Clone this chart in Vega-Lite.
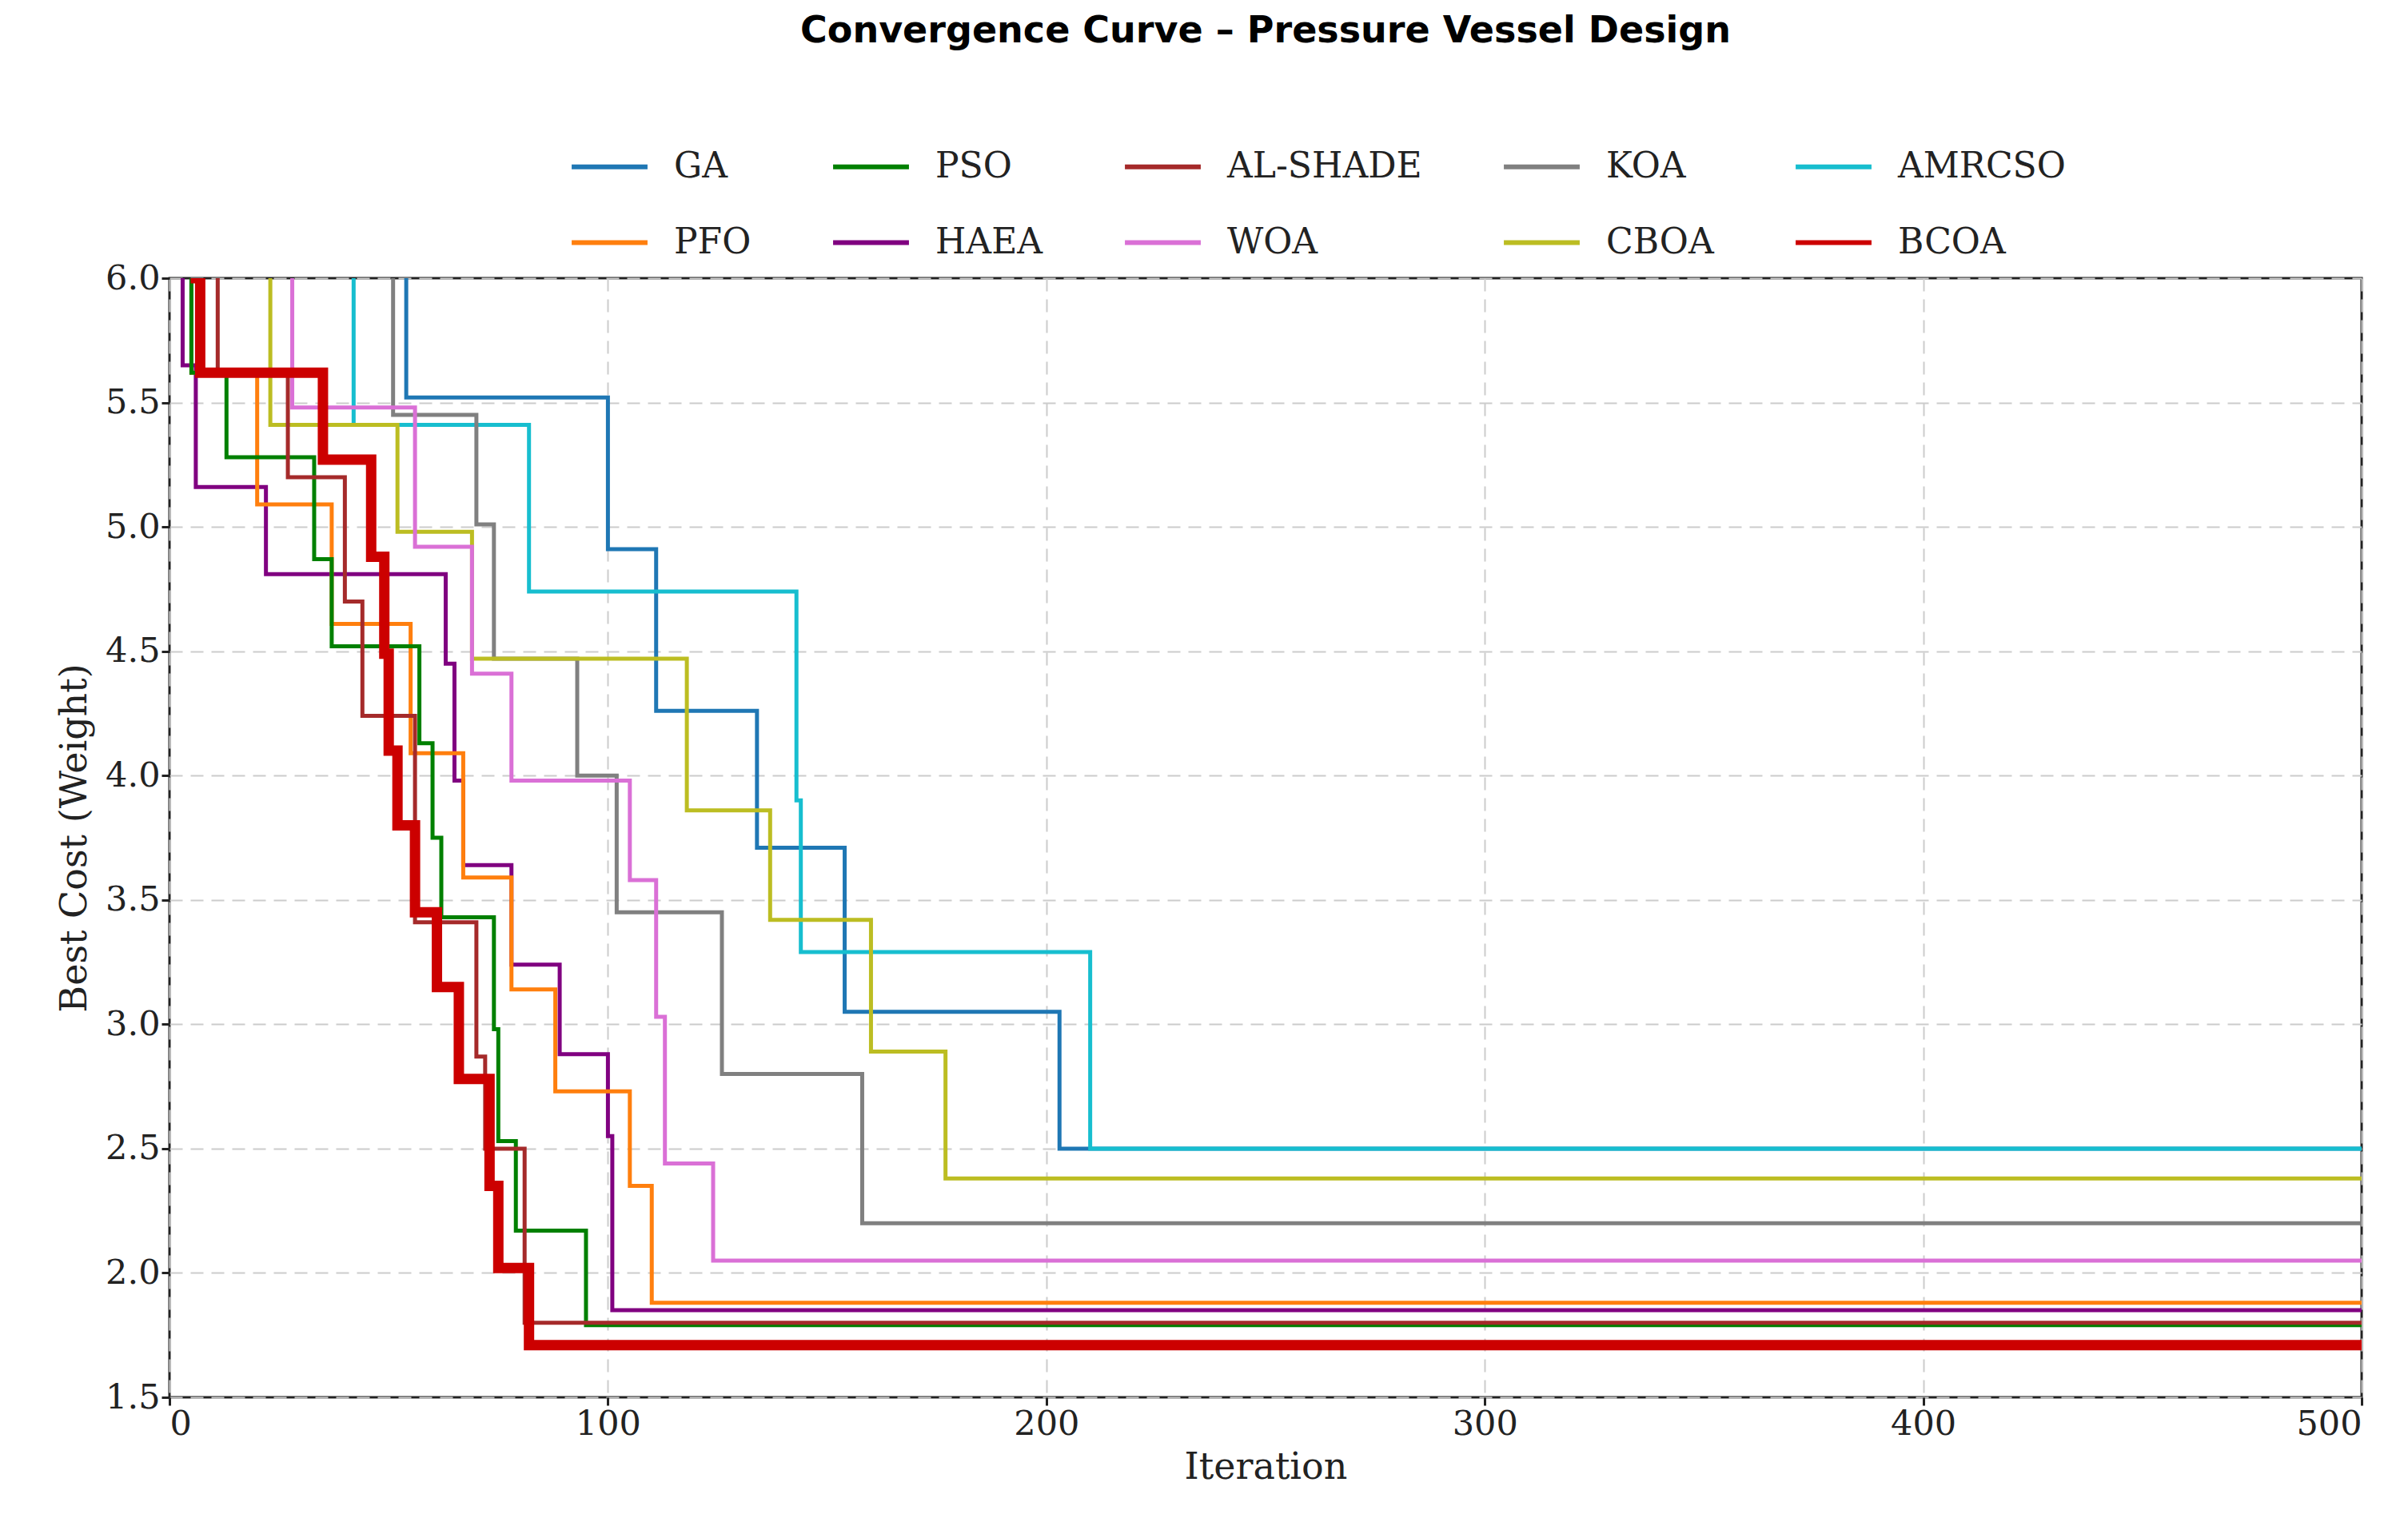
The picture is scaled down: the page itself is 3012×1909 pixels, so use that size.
{
  "$schema": "https://vega.github.io/schema/vega-lite/v6.json",
  "width": 2742,
  "height": 1400,
  "autosize": "none",
  "padding": {"left": 212, "top": 348, "right": 58, "bottom": 161},
  "title": {
    "text": "Convergence Curve – Pressure Vessel Design",
    "font": "DejaVu Sans",
    "fontSize": 46,
    "fontWeight": "bold",
    "color": "black",
    "anchor": "middle",
    "offset": 95
  },
  "config": {
    "view": {"stroke": "#222", "strokeWidth": 3},
    "axis": {
      "labelFont": "DejaVu Serif",
      "titleFont": "DejaVu Serif",
      "labelFontSize": 43,
      "titleFontSize": 46,
      "titleFontWeight": "normal",
      "labelColor": "#222",
      "titleColor": "#222",
      "gridDash": [16, 10],
      "gridColor": "#cccccc",
      "gridWidth": 2,
      "domain": false,
      "tickColor": "#222",
      "tickWidth": 3,
      "tickSize": 10
    },
    "legend": {"labelFont": "DejaVu Serif", "labelFontSize": 44, "labelColor": "#222"}
  },
  "data": {"values": [
    {"alg": "GA", "it": 0, "v": 6.5}, {"alg": "GA", "it": 54, "v": 5.52}, {"alg": "GA", "it": 100, "v": 4.91}, {"alg": "GA", "it": 111, "v": 4.26}, {"alg": "GA", "it": 134, "v": 3.71}, {"alg": "GA", "it": 154, "v": 3.05}, {"alg": "GA", "it": 203, "v": 2.5}, {"alg": "GA", "it": 500, "v": 2.5},
    {"alg": "AMRCSO", "it": 0, "v": 6.5}, {"alg": "AMRCSO", "it": 42, "v": 5.41}, {"alg": "AMRCSO", "it": 82, "v": 4.74}, {"alg": "AMRCSO", "it": 143, "v": 3.9}, {"alg": "AMRCSO", "it": 144, "v": 3.29}, {"alg": "AMRCSO", "it": 210, "v": 2.5}, {"alg": "AMRCSO", "it": 500, "v": 2.5},
    {"alg": "KOA", "it": 0, "v": 6.5}, {"alg": "KOA", "it": 51, "v": 5.45}, {"alg": "KOA", "it": 70, "v": 5.01}, {"alg": "KOA", "it": 74, "v": 4.47}, {"alg": "KOA", "it": 93, "v": 4.0}, {"alg": "KOA", "it": 102, "v": 3.45}, {"alg": "KOA", "it": 126, "v": 2.8}, {"alg": "KOA", "it": 158, "v": 2.2}, {"alg": "KOA", "it": 500, "v": 2.2},
    {"alg": "CBOA", "it": 0, "v": 6.5}, {"alg": "CBOA", "it": 23, "v": 5.41}, {"alg": "CBOA", "it": 52, "v": 4.98}, {"alg": "CBOA", "it": 69, "v": 4.47}, {"alg": "CBOA", "it": 118, "v": 3.86}, {"alg": "CBOA", "it": 137, "v": 3.42}, {"alg": "CBOA", "it": 160, "v": 2.89}, {"alg": "CBOA", "it": 177, "v": 2.38}, {"alg": "CBOA", "it": 500, "v": 2.38},
    {"alg": "WOA", "it": 0, "v": 6.5}, {"alg": "WOA", "it": 28, "v": 5.48}, {"alg": "WOA", "it": 56, "v": 4.92}, {"alg": "WOA", "it": 69, "v": 4.41}, {"alg": "WOA", "it": 78, "v": 3.98}, {"alg": "WOA", "it": 105, "v": 3.58}, {"alg": "WOA", "it": 111, "v": 3.03}, {"alg": "WOA", "it": 113, "v": 2.44}, {"alg": "WOA", "it": 124, "v": 2.05}, {"alg": "WOA", "it": 500, "v": 2.05},
    {"alg": "HAEA", "it": 0, "v": 6.5}, {"alg": "HAEA", "it": 3, "v": 5.65}, {"alg": "HAEA", "it": 6, "v": 5.16}, {"alg": "HAEA", "it": 22, "v": 4.81}, {"alg": "HAEA", "it": 63, "v": 4.45}, {"alg": "HAEA", "it": 65, "v": 3.98}, {"alg": "HAEA", "it": 67, "v": 3.64}, {"alg": "HAEA", "it": 78, "v": 3.24}, {"alg": "HAEA", "it": 89, "v": 2.88}, {"alg": "HAEA", "it": 100, "v": 2.55}, {"alg": "HAEA", "it": 101, "v": 1.85}, {"alg": "HAEA", "it": 500, "v": 1.85},
    {"alg": "PFO", "it": 0, "v": 6.5}, {"alg": "PFO", "it": 5, "v": 5.62}, {"alg": "PFO", "it": 20, "v": 5.09}, {"alg": "PFO", "it": 37, "v": 4.61}, {"alg": "PFO", "it": 55, "v": 4.09}, {"alg": "PFO", "it": 67, "v": 3.59}, {"alg": "PFO", "it": 78, "v": 3.14}, {"alg": "PFO", "it": 88, "v": 2.73}, {"alg": "PFO", "it": 105, "v": 2.35}, {"alg": "PFO", "it": 110, "v": 1.88}, {"alg": "PFO", "it": 500, "v": 1.88},
    {"alg": "PSO", "it": 0, "v": 6.5}, {"alg": "PSO", "it": 5, "v": 5.62}, {"alg": "PSO", "it": 13, "v": 5.28}, {"alg": "PSO", "it": 33, "v": 4.87}, {"alg": "PSO", "it": 37, "v": 4.52}, {"alg": "PSO", "it": 57, "v": 4.13}, {"alg": "PSO", "it": 60, "v": 3.75}, {"alg": "PSO", "it": 62, "v": 3.43}, {"alg": "PSO", "it": 74, "v": 2.98}, {"alg": "PSO", "it": 75, "v": 2.53}, {"alg": "PSO", "it": 79, "v": 2.17}, {"alg": "PSO", "it": 95, "v": 1.79}, {"alg": "PSO", "it": 500, "v": 1.79},
    {"alg": "AL-SHADE", "it": 0, "v": 6.5}, {"alg": "AL-SHADE", "it": 11, "v": 5.62}, {"alg": "AL-SHADE", "it": 27, "v": 5.2}, {"alg": "AL-SHADE", "it": 40, "v": 4.7}, {"alg": "AL-SHADE", "it": 44, "v": 4.24}, {"alg": "AL-SHADE", "it": 56, "v": 3.41}, {"alg": "AL-SHADE", "it": 70, "v": 2.87}, {"alg": "AL-SHADE", "it": 72, "v": 2.5}, {"alg": "AL-SHADE", "it": 81, "v": 1.8}, {"alg": "AL-SHADE", "it": 500, "v": 1.8},
    {"alg": "BCOA", "it": 0, "v": 6.5}, {"alg": "BCOA", "it": 6, "v": 6.0}, {"alg": "BCOA", "it": 7, "v": 5.62}, {"alg": "BCOA", "it": 35, "v": 5.27}, {"alg": "BCOA", "it": 46, "v": 4.88}, {"alg": "BCOA", "it": 49, "v": 4.49}, {"alg": "BCOA", "it": 50, "v": 4.1}, {"alg": "BCOA", "it": 52, "v": 3.8}, {"alg": "BCOA", "it": 56, "v": 3.45}, {"alg": "BCOA", "it": 61, "v": 3.15}, {"alg": "BCOA", "it": 66, "v": 2.78}, {"alg": "BCOA", "it": 73, "v": 2.35}, {"alg": "BCOA", "it": 75, "v": 2.02}, {"alg": "BCOA", "it": 82, "v": 1.71}, {"alg": "BCOA", "it": 500, "v": 1.71}
  ]},
  "encoding": {
    "x": {"field": "it", "type": "quantitative", "title": "Iteration", "scale": {"domain": [0, 500], "nice": false}, "axis": {"values": [0, 100, 200, 300, 400, 500], "titlePadding": 10}},
    "y": {"field": "v", "type": "quantitative", "title": "Best Cost (Weight)", "scale": {"domain": [1.5, 6.0], "nice": false, "zero": false}, "axis": {"values": [1.5, 2.0, 2.5, 3.0, 3.5, 4.0, 4.5, 5.0, 5.5, 6.0], "format": ".1f", "titlePadding": 14}},
    "color": {
      "field": "alg", "type": "nominal", "title": null,
      "scale": {
        "domain": ["GA", "PSO", "AL-SHADE", "KOA", "AMRCSO", "PFO", "HAEA", "WOA", "CBOA", "BCOA"],
        "range": ["#1f77b4", "#008000", "#a52a2a", "#808080", "#17becf", "#ff7f0e", "#800080", "#da70d6", "#bcbd22", "#cc0000"]
      },
      "legend": {"orient": "none", "legendX": 500, "legendY": -190, "columns": 5, "direction": "horizontal", "symbolType": "stroke", "symbolSize": 9000, "columnPadding": 90, "rowPadding": 22, "labelOffset": 30, "labelLimit": 400, "symbolStrokeWidth": 6}
    }
  },
  "layer": [
    {
      "transform": [{"filter": "datum.alg !== 'BCOA'"}],
      "mark": {"type": "line", "interpolate": "step-after", "clip": true, "strokeWidth": 5}
    },
    {
      "transform": [{"filter": "datum.alg === 'BCOA'"}],
      "mark": {"type": "line", "interpolate": "step-after", "clip": true, "strokeWidth": 13}
    }
  ]
}
